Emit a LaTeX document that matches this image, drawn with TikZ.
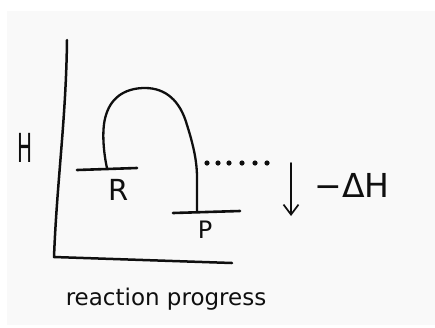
\documentclass[tikz,border=0pt]{standalone}
\usepackage{fontspec}
\setmainfont{DejaVu Sans}
\usetikzlibrary{arrows.meta}
\definecolor{bgpaper}{RGB}{249,249,249}
\definecolor{ink}{RGB}{15,15,15}
\tikzset{
  stroke/.style={draw=ink, line width=2.3pt, line cap=round, line join=round},
  thinstroke/.style={draw=ink, line width=1.7pt, line cap=round},
  label/.style={text=ink, inner sep=0pt, anchor=base},
  dot/.style={fill=ink, draw=none}
}
\begin{document}
\begin{tikzpicture}[x=1pt,y=-1pt]
\useasboundingbox (0,0) rectangle (435,327);
\fill[white] (0,0) rectangle (435,327);
\fill[bgpaper] (7,11) rectangle (435,325);

% axes
\coordinate (ytop) at (67,40);
\coordinate (origin) at (54,257);
\coordinate (xend) at (232,263);
\draw[stroke, line width=2.5pt] (ytop) .. controls (66,120) and (57,180) .. (origin) -- (xend);

% reactant and product levels
\coordinate (Rl) at (77,170);
\coordinate (Rr) at (137,168);
\coordinate (Pl) at (173,213);
\coordinate (Pr) at (240,211);
\draw[stroke, line width=2.6pt] (Rl) -- (Rr);
\draw[stroke, line width=2.6pt] (Pl) -- (Pr);

% energy profile
\coordinate (Rs) at (107,168);
\coordinate (Ps) at (197,212);
\draw[stroke] (Rs) .. controls (104,155) and (101,130) .. (106,115)
  .. controls (112,95) and (128,88) .. (145,88)
  .. controls (165,88) and (180,100) .. (187,125)
  .. controls (195,150) and (197,165) .. (197,178) -- (Ps);

% dotted level
\foreach \x in {207,218,229,242,255,267}
  \fill[dot] (\x,163) circle (2.6pt);

% delta H arrow
\coordinate (at) at (291,163);
\coordinate (ab) at (291,216);
\draw[thinstroke, -{Straight Barb[length=10pt,width=15pt,line width=1.7pt]}] (at) -- (ab);

% labels
\node[label, font=\fontsize{40}{46}\selectfont, xscale=0.5] (H) at (25,162) {H};
\node[label, font=\fontsize{29}{33}\selectfont] (R) at (119,200) {R};
\node[label, font=\fontsize{24}{28}\selectfont] (P) at (205,238) {P};
\node[label, font=\fontsize{33}{38}\selectfont] (dH) at (352,197) {−ΔH};
\node[label, font=\fontsize{23}{27}\selectfont] (xl) at (166,305) {reaction progress};
\end{tikzpicture}
\end{document}
